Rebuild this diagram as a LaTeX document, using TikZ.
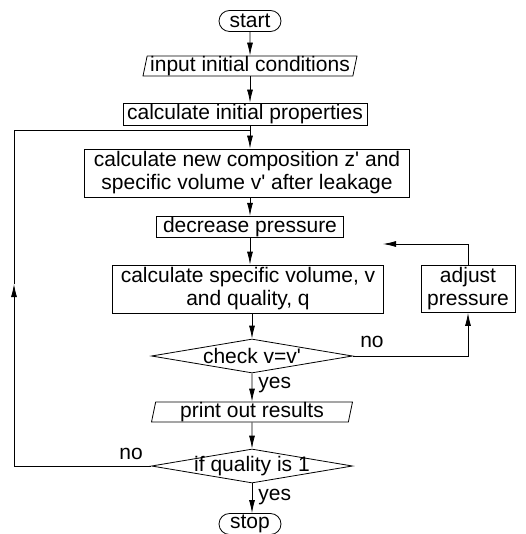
\documentclass[tikz,border=0pt]{standalone}
\usepackage{fontspec}
\setmainfont{Liberation Sans}
\usetikzlibrary{
    arrows.meta,
    shapes.geometric,
    shapes.misc,
    positioning
}

\begin{document}
\begin{tikzpicture}[x=1pt,y=-1pt,->,>={Latex[length=13pt,width=6pt]},line width=0.8pt,
    every node/.style={font=\fontsize{21}{23}\selectfont}]
    \tikzstyle{terminal}=[draw, rounded rectangle, minimum width=64pt, minimum height=21pt, inner sep=1pt]
    \tikzstyle{io}=[draw, trapezium, trapezium left angle=78, trapezium right angle=102, trapezium stretches body, minimum height=20pt, inner xsep=2pt, inner ysep=0pt]
    \tikzstyle{process}=[draw, rectangle, align=center, inner xsep=3pt, inner ysep=1pt]
    \tikzstyle{decision}=[draw, diamond, minimum width=201pt, minimum height=34pt, inner sep=0pt]
    \tikzstyle{tag}=[inner sep=0pt]
    \useasboundingbox (0,0) rectangle (525,534);
    \node[terminal] (start) at (250,21) {start};
    \node[io, minimum width=214pt] (input) at (250,66) {input initial conditions};
    \node[process, minimum width=244pt, minimum height=22pt] (cinit) at (245,114) {calculate initial properties};
    \node[process, minimum width=325pt, minimum height=48pt] (newc) at (247,173) {calculate new composition z\textquotesingle{} and\\specific volume v\textquotesingle{} after leakage};
    \node[process, minimum width=187pt, minimum height=20pt] (decp) at (250,227) {decrease pressure};
    \node[process, minimum width=271pt, minimum height=48pt] (calcv) at (248,289) {calculate specific volume, v\\and quality, q};
    \node[process, minimum width=94pt, minimum height=47pt] (adjust) at (468,289) {adjust\\pressure};
    \node[decision, label=center:{check v=v\textquotesingle}] (check) at (252,356) {};
    \node[io, minimum width=201pt] (print) at (252,412) {print out results};
    \node[decision, label=center:{if quality is 1}] (qual) at (252,466) {};
    \node[terminal] (stop) at (250,524) {stop};
    \node[tag, above right=8pt and 7pt of check.east] (nochk) {no};
    \node[tag, above left=6pt and 8pt of qual.west] (noqual) {no};
    \coordinate (join) at (250,130);
    \coordinate (back) at (14,284);
    \coordinate (ret) at (383,244);
    \draw (start.south) -- (input.north);
    \draw (input.south) -- (input.south |- cinit.north);
    \draw (cinit.south -| join) -- (newc.north -| join);
    \draw (newc.south -| join) -- (decp.north -| join);
    \draw (decp.south) -- (decp.south |- calcv.north);
    \draw (calcv.south -| check.north) -- (check.north);
    \draw (check.south) -- node[tag, right=6pt, pos=0.4] (yeschk) {yes} (print.north);
    \draw (print.south) -- (qual.north);
    \draw (qual.south) -- node[tag, right=6pt, pos=0.45] (yesqual) {yes} (qual.south |- stop.north);
    \draw (check.east) -| (adjust.south);
    \draw (adjust.north) |- (ret);
    \draw (qual.west) -| (back);
    \draw[-] (back) |- (join);
\end{tikzpicture}
\end{document}
